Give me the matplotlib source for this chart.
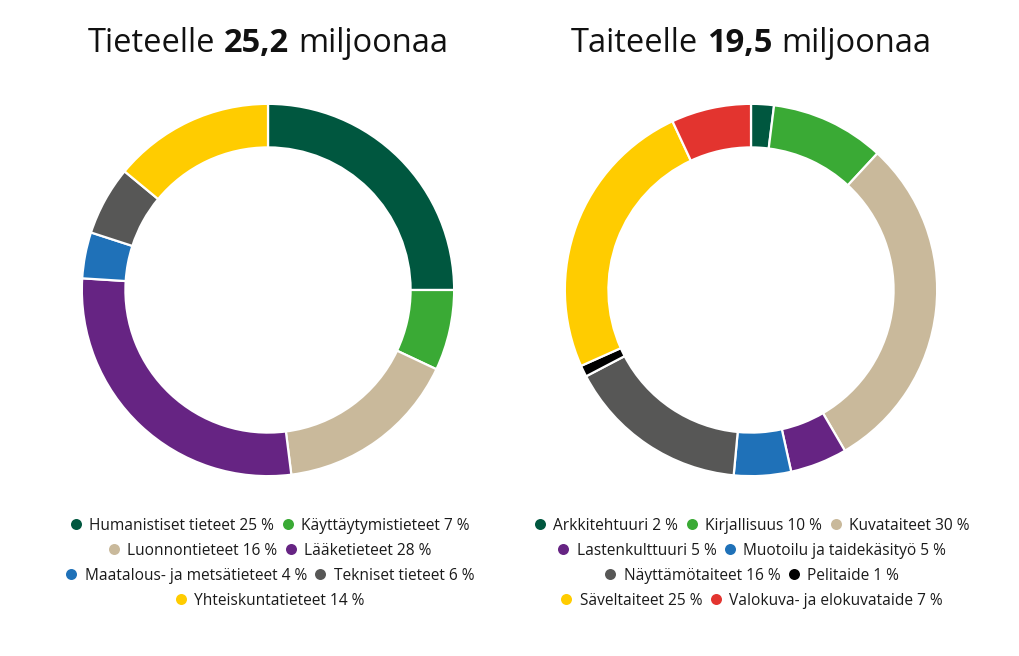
import matplotlib
matplotlib.use("Agg")
import matplotlib.pyplot as plt

W, H = 1020, 656
FONT = "Open Sans"

# ---- data ----
sci_labels = ["Humanistiset tieteet", "Käyttäytymistieteet", "Luonnontieteet", "Lääketieteet",
              "Maatalous- ja metsätieteet", "Tekniset tieteet", "Yhteiskuntatieteet"]
sci_values = [25, 7, 16, 28, 4, 6, 14]
sci_colors = ["#00573F", "#3AAA35", "#C9B99B", "#662483", "#1F71B8", "#575756", "#FFCC00"]

art_labels = ["Arkkitehtuuri", "Kirjallisuus", "Kuvataiteet", "Lastenkulttuuri",
              "Muotoilu ja taidekäsityö", "Näyttämötaiteet", "Pelitaide", "Säveltaiteet",
              "Valokuva- ja elokuvataide"]
art_values = [2, 10, 30, 5, 5, 16, 1, 25, 7]
art_colors = ["#00573F", "#3AAA35", "#C9B99B", "#662483", "#1F71B8", "#575756", "#000000",
              "#FFCC00", "#E3342F"]

titles = [("Tieteelle ", "25,2", " miljoonaa"), ("Taiteelle ", "19,5", " miljoonaa")]

fig = plt.figure(figsize=(W / 100, H / 100), dpi=100)
fig.patch.set_facecolor("white")

def pie_axes(cx, cy, r):
    return fig.add_axes([(cx - r) / W, (H - cy - r) / H, 2 * r / W, 2 * r / H])

overlay = fig.add_axes([0, 0, 1, 1])
overlay.set_xlim(0, W)
overlay.set_ylim(H, 0)
overlay.axis("off")
overlay.set_zorder(5)

renderer = fig.canvas.get_renderer()

def text_width(s, size, weight="normal"):
    t = overlay.text(0, 0, s, fontsize=size, family=FONT, fontweight=weight)
    w = t.get_window_extent(renderer=renderer).width
    t.remove()
    return w

def draw_title(parts, cx, baseline, size=23.5):
    space = text_width("x x", size) - text_width("xx", size)
    a, b, c = parts
    wa = text_width(a.strip(), size)
    wb = text_width(b, size, "bold")
    wc = text_width(c.strip(), size)
    total = wa + wb + wc + 2 * space
    x = cx - total / 2
    overlay.text(x, baseline, a.strip(), fontsize=size, family=FONT, va="baseline", ha="left", color="#111111")
    x += wa + space
    overlay.text(x, baseline, b, fontsize=size, family=FONT, fontweight="bold", va="baseline", ha="left", color="#111111")
    x += wb + space
    overlay.text(x, baseline, c.strip(), fontsize=size, family=FONT, va="baseline", ha="left", color="#111111")

def draw_legend(labels, values, colors, cx, y0, maxw=441, size=11.2, dy=25):
    mark_d = 11
    gap_mt = 8
    gap_items = 8
    items = []
    for lab, v, col in zip(labels, values, colors):
        s = f"{lab} {v} %"
        w = mark_d + gap_mt + text_width(s, size)
        items.append((s, col, w))
    rows, cur, curw = [], [], 0
    for it in items:
        add = it[2] + (gap_items if cur else 0)
        if cur and curw + add > maxw:
            rows.append((cur, curw))
            cur, curw = [], 0
            add = it[2]
        cur.append(it)
        curw += add
    if cur:
        rows.append((cur, curw))
    for i, (row, rw) in enumerate(rows):
        yc = y0 + i * dy
        x = cx - rw / 2
        for s, col, w in row:
            overlay.scatter([x + mark_d / 2], [yc], s=(mark_d * 0.72) ** 2, color=col, marker="o", linewidths=0)
            overlay.text(x + mark_d + gap_mt, yc + 5.8, s, fontsize=size, family=FONT,
                         va="baseline", ha="left", color="#1a1a1a")
            x += w + gap_items

for (cx, cy, r), vals, cols in [((268, 290, 188), sci_values, sci_colors),
                                ((751, 290, 188), art_values, art_colors)]:
    ax = pie_axes(cx, cy, r)
    ax.pie(vals, colors=cols, startangle=90, counterclock=False, radius=1,
           wedgeprops=dict(width=0.234, edgecolor="white", linewidth=1.6))
    ax.set_xlim(-1.01, 1.01)
    ax.set_ylim(-1.01, 1.01)
    ax.axis("off")

draw_title(titles[0], 268, 52)
draw_title(titles[1], 751, 52)
draw_legend(sci_labels, sci_values, sci_colors, 270, 524)
draw_legend(art_labels, art_values, art_colors, 752, 524)

fig.savefig("out.png", dpi=100, facecolor="white")
